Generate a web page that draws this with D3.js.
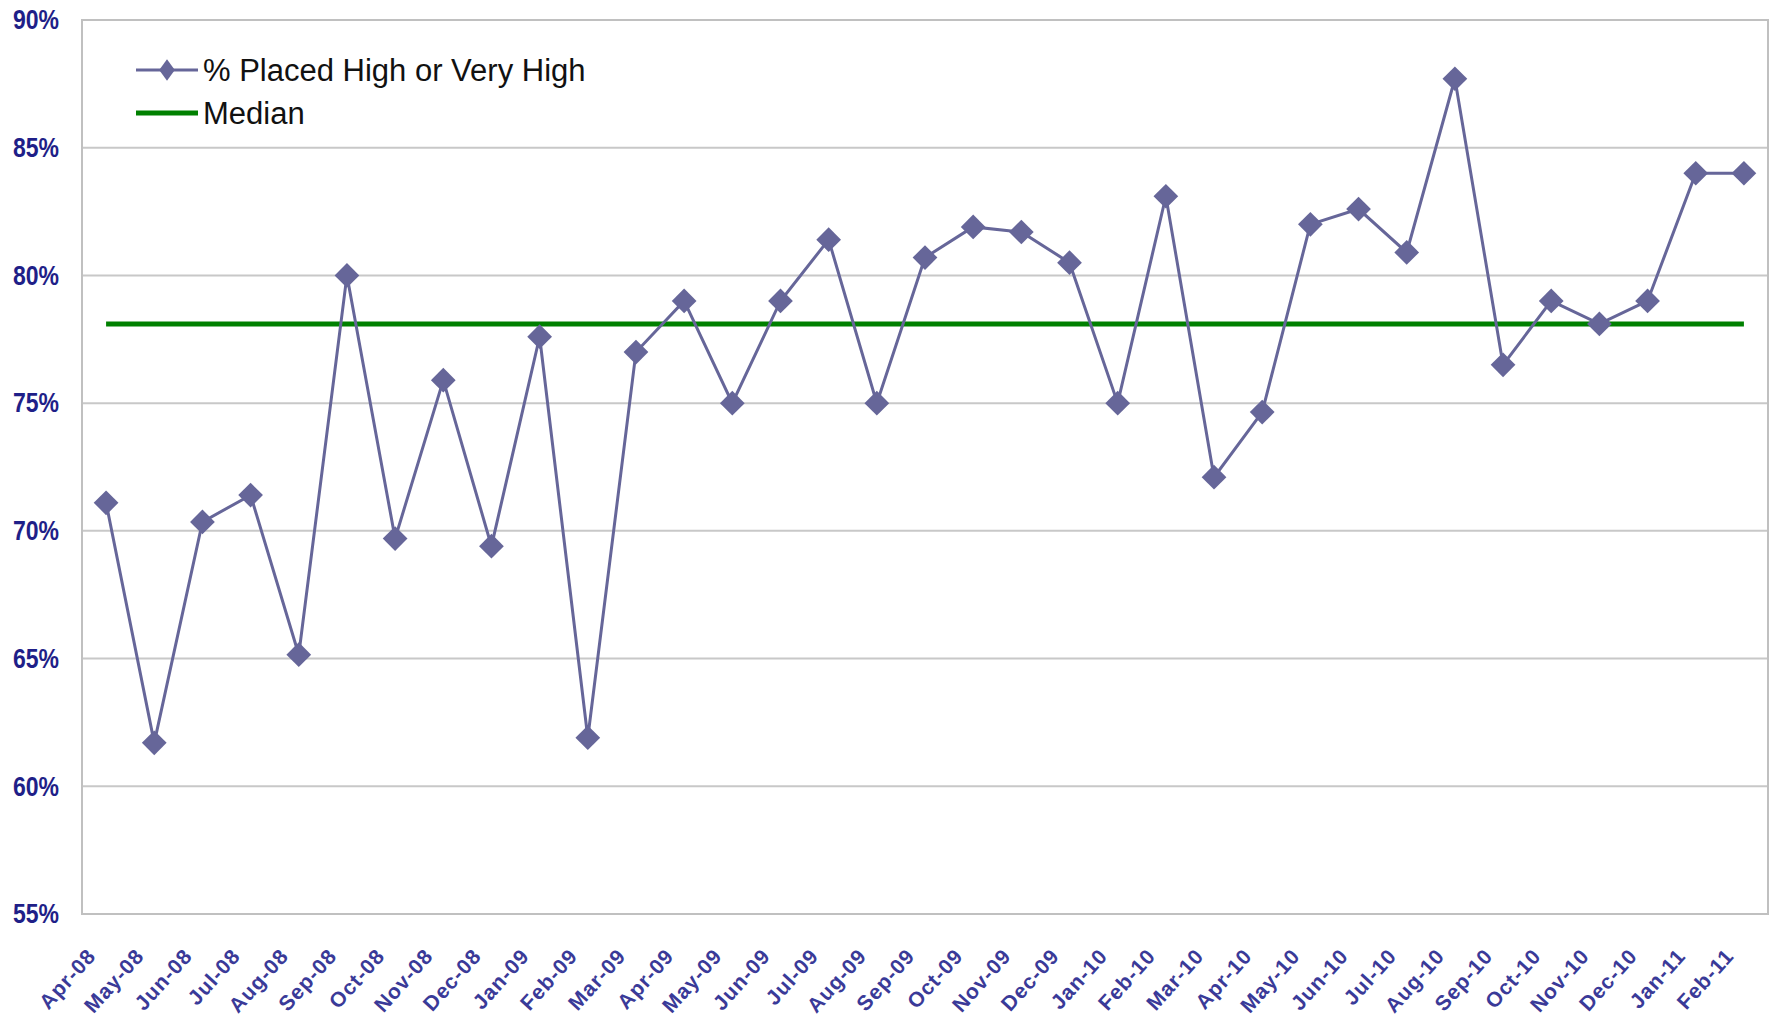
<!DOCTYPE html>
<html lang="en">
<head>
<meta charset="utf-8" />
<title>% Placed High or Very High</title>
<script src="https://d3js.org/d3.v7.min.js"></script>
<style>
  body { margin: 0; background: #fff; }
  svg text { font-family: "Liberation Sans", Arial, sans-serif; }
</style>
</head>
<body>
<div id="chart"></div>
<script>
// data
var months = ["Apr-08","May-08","Jun-08","Jul-08","Aug-08","Sep-08","Oct-08","Nov-08","Dec-08",
              "Jan-09","Feb-09","Mar-09","Apr-09","May-09","Jun-09","Jul-09","Aug-09","Sep-09","Oct-09","Nov-09","Dec-09",
              "Jan-10","Feb-10","Mar-10","Apr-10","May-10","Jun-10","Jul-10","Aug-10","Sep-10","Oct-10","Nov-10","Dec-10",
              "Jan-11","Feb-11"];
var placed = [71.1, 61.7, 70.35, 71.4, 65.15, 80.0, 69.7, 75.9, 69.4,
              77.6, 61.9, 77.0, 79.0, 75.0, 79.0, 81.4, 75.0, 80.7, 81.9, 81.7, 80.5,
              75.0, 83.1, 72.1, 74.65, 82.0, 82.6, 80.9, 87.7, 76.5, 79.0, 78.1, 79.0,
              84.0, 84.0];
var yTicks = [55, 60, 65, 70, 75, 80, 85, 90];
var legendLabels = ["% Placed High or Very High", "Median"];

var width = 1775,
    height = 1020,
    margin = {top: 20, right: 7, bottom: 106, left: 82};

var median = d3.median(placed);

var svg = d3.select("#chart").append("svg")
    .attr("width", width)
    .attr("height", height);

svg.append("rect").attr("width", width).attr("height", height).attr("fill", "#fff");

var x = d3.scalePoint()
    .domain(months)
    .range([margin.left, width - margin.right])
    .padding(0.5);

var y = d3.scaleLinear()
    .domain([55, 90])
    .range([height - margin.bottom, margin.top]);

// gridlines
svg.append("g")
    .selectAll("line")
    .data(yTicks)
    .enter().append("line")
    .attr("x1", margin.left)
    .attr("x2", width - margin.right)
    .attr("y1", function(d) { return y(d); })
    .attr("y2", function(d) { return y(d); })
    .attr("stroke", "#c8c8c8")
    .attr("stroke-width", 2);

// plot border
svg.append("rect")
    .attr("x", margin.left)
    .attr("y", margin.top)
    .attr("width", width - margin.left - margin.right)
    .attr("height", height - margin.top - margin.bottom)
    .attr("fill", "none")
    .attr("stroke", "#c0c0c0")
    .attr("stroke-width", 2);

// y axis labels
var yAxis = d3.axisLeft(y)
    .tickValues(yTicks)
    .tickSize(0)
    .tickPadding(23)
    .tickFormat(function(d) { return d + "%"; });

var gy = svg.append("g")
    .attr("transform", "translate(" + margin.left + ",0)")
    .call(yAxis);
gy.select(".domain").remove();
gy.selectAll("text")
    .attr("font-size", 24)
    .attr("font-weight", "bold")
    .attr("fill", "#1f1f88")
    .attr("font-family", "'Liberation Sans', Arial, sans-serif")
    .style("transform-box", "fill-box")
    .style("transform-origin", "right center")
    .style("transform", "scale(0.96,1.12)");

// x axis labels
var xAxis = d3.axisBottom(x).tickSize(0).tickPadding(0);
var gx = svg.append("g")
    .attr("transform", "translate(0," + (height - margin.bottom) + ")")
    .call(xAxis);
gx.select(".domain").remove();
gx.selectAll("text")
    .attr("font-size", 21)
    .attr("font-weight", "bold")
    .attr("letter-spacing", 1)
    .attr("fill", "#3a3a98")
    .attr("font-family", "'Liberation Sans', Arial, sans-serif")
    .attr("text-anchor", "end")
    .attr("dy", "0.35em")
    .attr("transform", "translate(-15,38) rotate(-48)");

// median line
svg.append("line")
    .attr("x1", x(months[0]))
    .attr("x2", x(months[months.length - 1]))
    .attr("y1", y(median))
    .attr("y2", y(median))
    .attr("stroke", "#008000")
    .attr("stroke-width", 5);

// series line
var line = d3.line()
    .x(function(d, i) { return x(months[i]); })
    .y(function(d) { return y(d); });

svg.append("path")
    .datum(placed)
    .attr("d", line)
    .attr("fill", "none")
    .attr("stroke", "#666699")
    .attr("stroke-width", 3);

var diamond = d3.symbol().type(d3.symbolDiamond2).size(390);

svg.append("g")
    .selectAll("path")
    .data(placed)
    .enter().append("path")
    .attr("d", diamond)
    .attr("transform", function(d, i) { return "translate(" + x(months[i]) + "," + y(d) + ")"; })
    .attr("fill", "#666699");

// legend
var legend = svg.append("g").attr("transform", "translate(136,70)");

legend.append("line")
    .attr("x1", 0).attr("x2", 62).attr("y1", 0).attr("y2", 0)
    .attr("stroke", "#666699").attr("stroke-width", 3);
legend.append("path")
    .attr("d", d3.symbol().type(d3.symbolDiamond2).size(300))
    .attr("transform", "translate(31,0) scale(0.72,1)")
    .attr("fill", "#666699");
legend.append("line")
    .attr("x1", 0).attr("x2", 62).attr("y1", 43).attr("y2", 43)
    .attr("stroke", "#008000").attr("stroke-width", 5);

legend.selectAll("text")
    .data(legendLabels)
    .enter().append("text")
    .attr("x", 67)
    .attr("y", function(d, i) { return i * 43; })
    .attr("dy", "0.35em")
    .attr("font-size", 31)
    .attr("fill", "#111")
    .text(function(d) { return d; });
</script>
</body>
</html>
